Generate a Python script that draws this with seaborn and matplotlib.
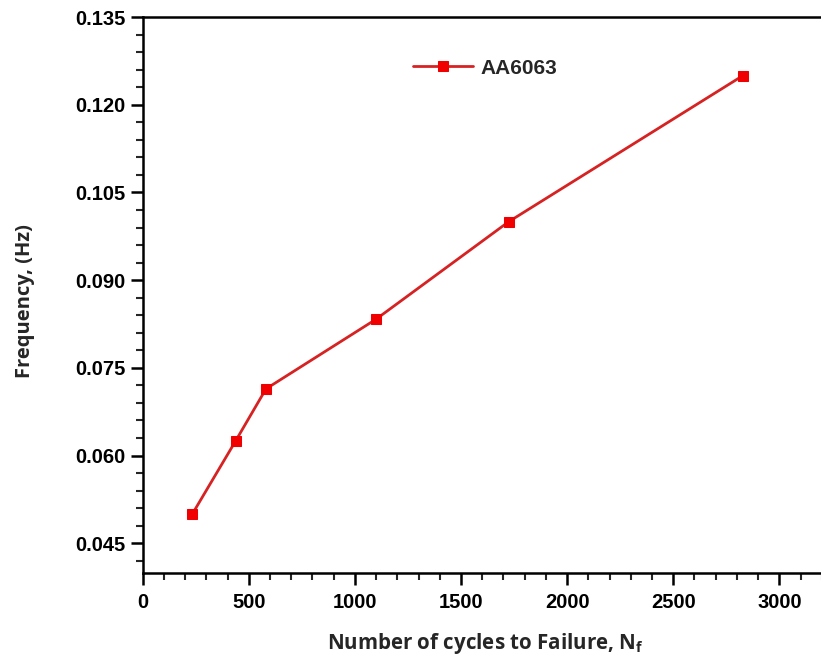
import matplotlib
matplotlib.use("Agg")
import matplotlib.pyplot as plt
from matplotlib.ticker import MultipleLocator, FormatStrFormatter
import seaborn as sns
import pandas as pd

# Fatigue data for AA6063
cycles_to_failure = [234, 438, 581, 1099, 1725, 2829]
frequency_hz = [0.0500, 0.0625, 0.0714, 0.0833, 0.1000, 0.1250]
series_name = "AA6063"
y_ticks = [0.045, 0.060, 0.075, 0.090, 0.105, 0.120, 0.135]

df = pd.DataFrame({"N": cycles_to_failure, "f": frequency_hz, "alloy": series_name})

sns.set_style("ticks")
plt.rcParams["font.family"] = ["Liberation Sans", "DejaVu Sans"]
plt.rcParams["mathtext.fontset"] = "custom"
plt.rcParams["mathtext.rm"] = "Open Sans"
plt.rcParams["mathtext.bf"] = "Open Sans:bold"

fig = plt.figure(figsize=(8.21, 6.61), dpi=100)
ax = fig.add_axes([0.1738, 0.1331, 0.853, 0.8411])

sns.lineplot(data=df, x="N", y="f", hue="alloy", palette=["#d62222"],
             marker="s", markersize=6.5, markerfacecolor="#f00000",
             markeredgecolor="#f00000", linewidth=2.0, ax=ax)

ax.set_xlim(0, 3300)
ax.set_ylim(0.0399, 0.135)
ax.xaxis.set_major_locator(MultipleLocator(500))
ax.xaxis.set_minor_locator(MultipleLocator(100))
ax.yaxis.set_minor_locator(MultipleLocator(0.003))
ax.set_yticks(y_ticks)
ax.yaxis.set_major_formatter(FormatStrFormatter("%.3f"))

for side in ["left", "bottom", "top"]:
    ax.spines[side].set_visible(True)
    ax.spines[side].set_linewidth(1.8)
    ax.spines[side].set_color("black")
ax.spines["right"].set_visible(False)

ax.tick_params(which="major", direction="out", length=8.5, width=1.8,
               labelsize=14.5, top=False, right=False, colors="black")
ax.tick_params(which="minor", direction="out", length=5, width=1.5,
               top=False, right=False)
ax.tick_params(axis="x", which="major", pad=6)
ax.tick_params(axis="y", which="major", pad=4)
for lbl in ax.get_xticklabels() + ax.get_yticklabels():
    lbl.set_fontweight("bold")

ax.set_xlabel(r"Number of cycles to Failure, N$_\mathbf{f}$",
              fontsize=14.8, fontweight="bold", family="Open Sans")
ax.set_ylabel("Frequency, (Hz)", fontsize=14.5, fontweight="bold",
              family="Open Sans")
ax.xaxis.set_label_coords(0.49, -0.104)
ax.yaxis.set_label_coords(-0.154, 0.49)

leg = ax.legend(loc="center left", bbox_to_anchor=(413 / 821, 1 - 68 / 661),
                bbox_transform=fig.transFigure, frameon=False,
                borderpad=0, borderaxespad=0, handlelength=2.9,
                handletextpad=0.35, prop={"weight": "bold", "size": 15})
ax.grid(False)

fig.savefig("out.png", dpi=100)
